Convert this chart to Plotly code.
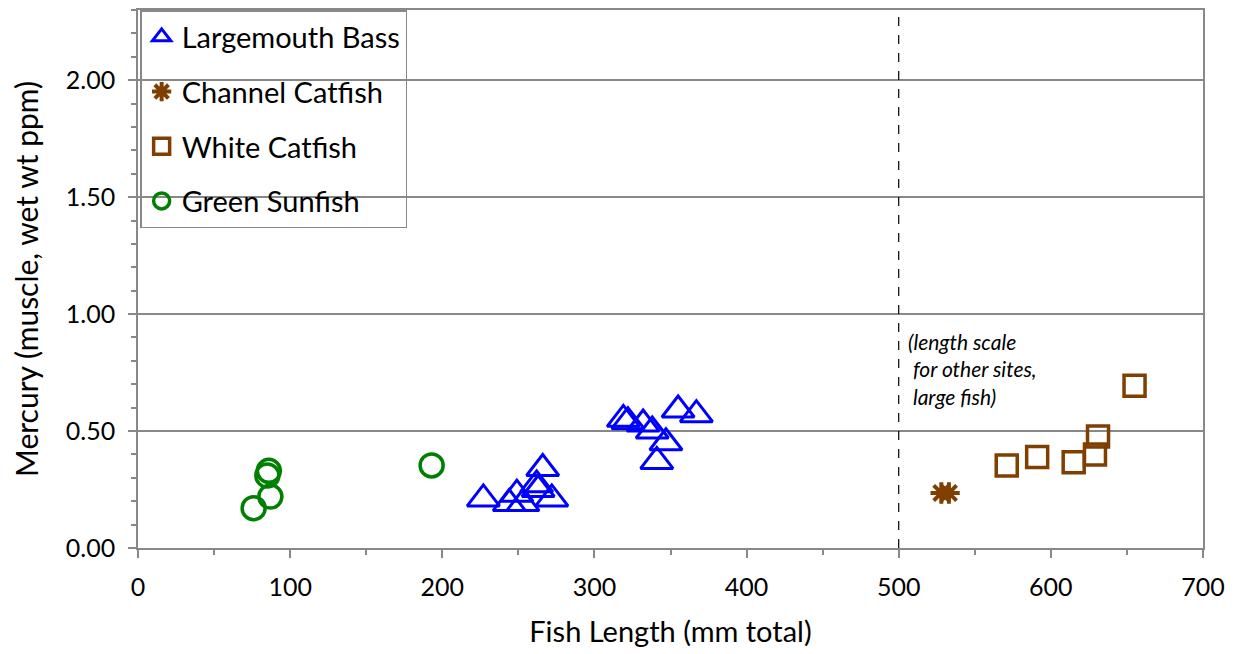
import plotly.graph_objects as go

# ---- data ----
bass_len = [227, 244, 249, 253, 262, 263, 266, 272, 319, 322, 332, 338, 341, 347, 355, 367]
bass_hg  = [0.21, 0.19, 0.23, 0.19, 0.27, 0.25, 0.34, 0.21, 0.55, 0.54, 0.53, 0.50, 0.37, 0.45, 0.59, 0.57]

channel_len = [528, 533]
channel_hg  = [0.235, 0.235]

white_len = [571, 591, 615, 629, 631, 655]
white_hg  = [0.353, 0.389, 0.367, 0.40, 0.477, 0.694]

sunfish_len = [76, 85, 86, 87, 193]
sunfish_hg  = [0.17, 0.31, 0.33, 0.22, 0.353]

DIVIDER_X = 500
NOTE_X, NOTE_Y = 505, 0.945
NOTE_TEXT = "(length scale<br>&nbsp;for other sites,<br>&nbsp;large fish)"

X_RANGE = [0, 700]
Y_RANGE = [0, 2.3]

FONT = "Lato"
BLUE = "#0000FF"
BROWN = "#7F3F00"
GREEN = "#008000"
GRID = "#888888"

fig = go.Figure()
fig.add_trace(go.Scatter(x=bass_len, y=bass_hg, mode="markers", name="Largemouth Bass",
                         legendgroup="a",
                         marker=dict(symbol="triangle-up-open", size=28, color=BLUE,
                                     line=dict(color=BLUE, width=3))))
fig.add_trace(go.Scatter(x=channel_len, y=channel_hg, mode="markers", name="Channel Catfish",
                         legendgroup="b",
                         marker=dict(symbol="asterisk-open", size=18, color=BROWN,
                                     line=dict(color=BROWN, width=4))))
fig.add_trace(go.Scatter(x=white_len, y=white_hg, mode="markers", name="White Catfish",
                         legendgroup="c",
                         marker=dict(symbol="square-open", size=21, color=BROWN,
                                     line=dict(color=BROWN, width=3.5))))
fig.add_trace(go.Scatter(x=sunfish_len, y=sunfish_hg, mode="markers", name="Green Sunfish",
                         legendgroup="d",
                         marker=dict(symbol="circle-open", size=23, color=GREEN,
                                     line=dict(color=GREEN, width=3.5))))

fig.add_vline(x=DIVIDER_X, line=dict(color="black", width=1.2, dash="dash"))

fig.add_annotation(x=NOTE_X, y=NOTE_Y, xref="x", yref="y", text=NOTE_TEXT,
                   showarrow=False, xanchor="left", yanchor="top", align="left",
                   font=dict(family=FONT, size=21, color="black", style="italic"))

axis_common = dict(showline=True, linecolor=GRID, linewidth=1.5, mirror=True,
                   ticks="outside", ticklen=8, tickwidth=1.5, tickcolor=GRID,
                   tickfont=dict(family=FONT, size=25, color="black"),
                   zeroline=False)

fig.update_xaxes(range=X_RANGE, dtick=100, showgrid=False,
                 minor=dict(dtick=50, ticks="outside", ticklen=5, tickwidth=1.5, tickcolor=GRID, showgrid=False),
                 title=dict(text="Fish Length (mm total)", font=dict(family=FONT, size=29, color="black"), standoff=22),
                 ticklabelstandoff=8,
                 **axis_common)
fig.update_yaxes(range=Y_RANGE, tickvals=[0, 0.5, 1.0, 1.5, 2.0], tickformat=".2f",
                 showgrid=True, gridcolor=GRID, gridwidth=1.5,
                 minor=dict(dtick=0.1, ticks="outside", ticklen=5, tickwidth=1.5, tickcolor=GRID, showgrid=False),
                 title=dict(text="Mercury (muscle, wet wt ppm)", font=dict(family=FONT, size=30, color="black"), standoff=22),
                 ticklabelstandoff=8,
                 **axis_common)

fig.update_layout(
    width=1230, height=646,
    margin=dict(l=130, r=35, t=0, b=106),
    paper_bgcolor="white", plot_bgcolor="white",
    font=dict(family=FONT, color="black"),
    legend=dict(x=0.002, y=1.0, xanchor="left", yanchor="top",
                bgcolor="rgba(0,0,0,0)", bordercolor=GRID, borderwidth=1.5,
                font=dict(family=FONT, size=29, color="black"),
                traceorder="grouped", tracegroupgap=14, itemwidth=30),
    showlegend=True,
)

fig.write_html("out.html")
